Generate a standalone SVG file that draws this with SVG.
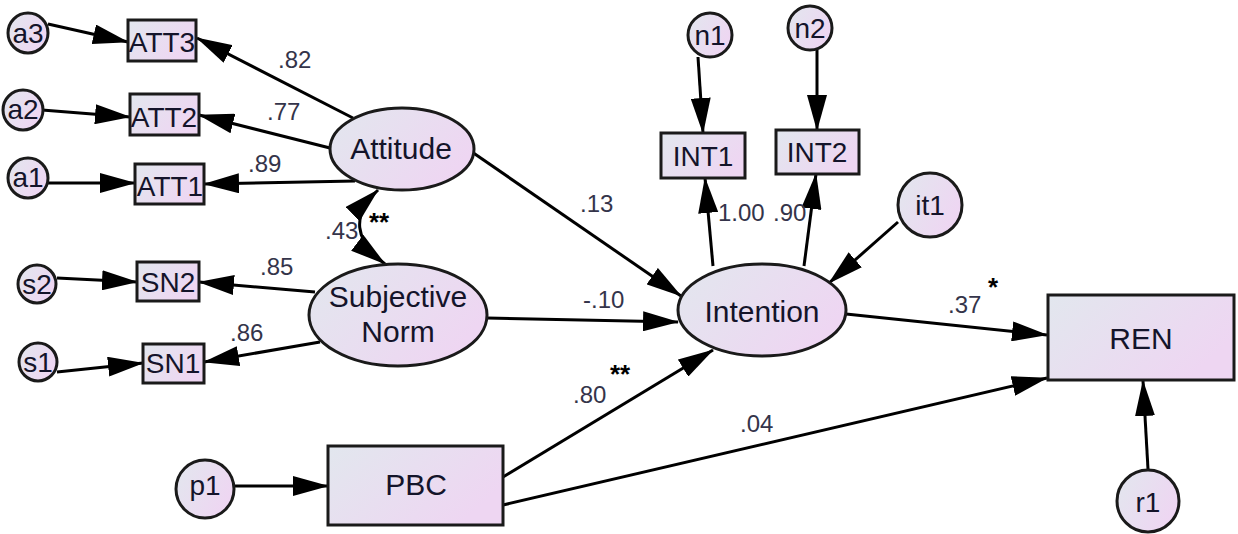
<svg xmlns="http://www.w3.org/2000/svg" width="1238" height="534" viewBox="0 0 1238 534">
<defs>
<linearGradient id="g" x1="0" y1="0" x2="1" y2="0.5">
<stop offset="0" stop-color="#e2e7ee"/>
<stop offset="1" stop-color="#eed6f2"/>
</linearGradient>
<marker id="ah" markerUnits="userSpaceOnUse" markerWidth="36" markerHeight="20" viewBox="0 0 36 20" refX="35" refY="10" orient="auto-start-reverse">
<path d="M0,0 L36,10 L0,20 z" fill="#000"/>
</marker>
</defs>
<style>
.n{fill:url(#g);stroke:#1a1a1a;stroke-width:3}
.t{font-family:"Liberation Sans",Arial,sans-serif;fill:#14142a;text-anchor:middle}
.s{font-size:28px}
.b{font-size:30px}
.l{font-family:"Liberation Sans",Arial,sans-serif;font-size:24px;fill:#34344a}
.k{font-family:"Liberation Sans",Arial,sans-serif;font-size:26px;font-weight:bold;fill:#000}
.c path{fill:none;stroke:#000;stroke-width:3;marker-end:url(#ah)}
</style>
<g class="c" id="connectors">
<path d="M48,24 L128,42"/>
<path d="M42,110 L130,117"/>
<path d="M48,183 L135,183"/>
<path d="M353,118 L197,38"/>
<path d="M330,148 L199,115"/>
<path d="M355,181 L204,184"/>
<path d="M57,278 L137,282"/>
<path d="M57,372 L143,363"/>
<path d="M315,292 L199,282"/>
<path d="M320,342 L204,362"/>
<path d="M378,190 Q338,228 385,264" style="marker-start:url(#ah)"/>
<path d="M472,152 L681,296"/>
<path d="M487,318 L678,322"/>
<path d="M503,477 L713,350"/>
<path d="M503,505 L1047,378"/>
<path d="M846,314 L1047,335"/>
<path d="M713,266 L705,178"/>
<path d="M804,266 L816,174"/>
<path d="M698,57 L703,133"/>
<path d="M817,50 L817,130"/>
<path d="M898,222 L829,283"/>
<path d="M235,486 L328,486"/>
<path d="M1148,469 L1143,381"/>
</g>
<g id="a3"><circle class="n" cx="28" cy="33" r="20"/><text class="t s" x="28" y="43">a3</text></g>
<g id="a2"><circle class="n" cx="23" cy="110" r="20"/><text class="t s" x="23" y="119">a2</text></g>
<g id="a1"><circle class="n" cx="28" cy="178" r="20"/><text class="t s" x="28" y="187">a1</text></g>
<g id="ATT3"><rect class="n" x="128" y="20" width="68" height="41"/><text class="t s" x="162" y="52">ATT3</text></g>
<g id="ATT2"><rect class="n" x="130" y="94" width="69" height="41"/><text class="t s" x="164" y="127">ATT2</text></g>
<g id="ATT1"><rect class="n" x="135" y="164" width="69" height="40"/><text class="t s" x="170" y="196">ATT1</text></g>
<g id="Attitude"><ellipse class="n" cx="402" cy="149" rx="72" ry="41"/><text class="t b" x="401" y="159">Attitude</text></g>
<g id="s2"><circle class="n" cx="37" cy="284" r="19"/><text class="t s" x="37" y="294">s2</text></g>
<g id="s1"><circle class="n" cx="38" cy="362" r="19"/><text class="t s" x="38" y="372">s1</text></g>
<g id="SN2"><rect class="n" x="137" y="262" width="62" height="39"/><text class="t s" x="168" y="292">SN2</text></g>
<g id="SN1"><rect class="n" x="143" y="344" width="61" height="39"/><text class="t s" x="173" y="373">SN1</text></g>
<g id="SubjectiveNorm"><ellipse class="n" cx="398" cy="315" rx="89" ry="51"/><text class="t b" x="398" y="307">Subjective</text><text class="t b" x="398" y="342">Norm</text></g>
<g id="n1"><circle class="n" cx="710" cy="35" r="22"/><text class="t s" x="710" y="45">n1</text></g>
<g id="n2"><circle class="n" cx="810" cy="28" r="22"/><text class="t s" x="810" y="38">n2</text></g>
<g id="INT1"><rect class="n" x="661" y="133" width="84" height="45"/><text class="t s" x="703" y="166">INT1</text></g>
<g id="INT2"><rect class="n" x="776" y="130" width="83" height="44"/><text class="t s" x="817" y="162">INT2</text></g>
<g id="it1"><circle class="n" cx="930" cy="205" r="32"/><text class="t s" x="930" y="215">it1</text></g>
<g id="Intention"><ellipse class="n" cx="762" cy="310" rx="84" ry="46"/><text class="t b" x="762" y="322">Intention</text></g>
<g id="REN"><rect class="n" x="1048" y="295" width="186" height="85"/><text class="t b" x="1141" y="349">REN</text></g>
<g id="r1"><circle class="n" cx="1148" cy="501" r="31"/><text class="t s" x="1148" y="512">r1</text></g>
<g id="PBC"><rect class="n" x="328" y="446" width="175" height="79"/><text class="t b" x="416" y="495">PBC</text></g>
<g id="p1"><circle class="n" cx="205" cy="489" r="29"/><text class="t s" x="205" y="495">p1</text></g>
<g id="labels">
<text class="l" x="278" y="68">.82</text>
<text class="l" x="267" y="120">.77</text>
<text class="l" x="248" y="172">.89</text>
<text class="l" x="260" y="275">.85</text>
<text class="l" x="230" y="341">.86</text>
<text class="l" x="325" y="239">.43</text>
<text class="k" x="369" y="231">**</text>
<text class="l" x="580" y="212">.13</text>
<text class="l" x="583" y="308">-.10</text>
<text class="l" x="573" y="403">.80</text>
<text class="k" x="610" y="383">**</text>
<text class="l" x="740" y="432">.04</text>
<text class="l" x="718" y="221">1.00</text>
<text class="l" x="773" y="221">.90</text>
<text class="l" x="948" y="313">.37</text>
<text class="k" x="988" y="296">*</text>
</g>
</svg>
